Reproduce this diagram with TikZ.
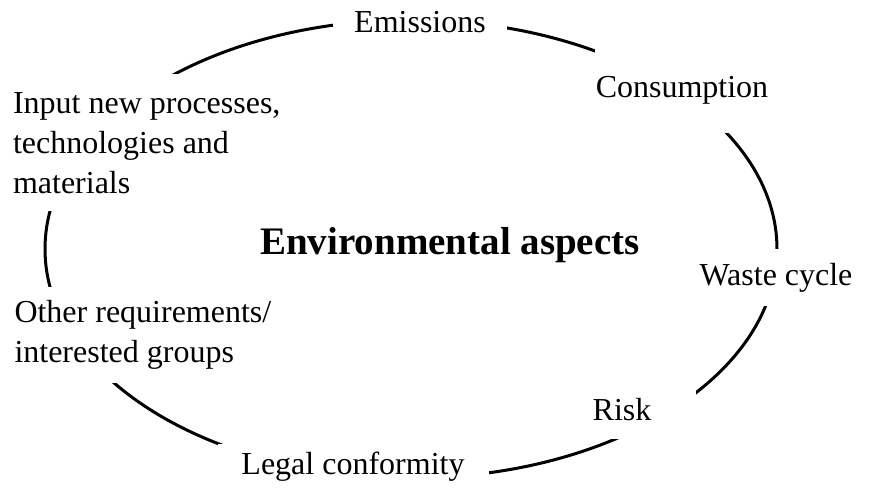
\documentclass[tikz,border=0pt]{standalone}
\usepackage{fontspec}
\setmainfont{Liberation Serif}
\tikzset{
	aspect/.style={fill=white, inner sep=0pt, font=\fontsize{16}{20}\selectfont},
	aspectlong/.style={aspect, align=flush left, inner xsep=7.5pt}
}
\begin{document}
\begin{tikzpicture}[x=0.5pt,y=-0.5pt]
	\useasboundingbox (0,0) rectangle (874,490);

	\draw[line width=1.5pt] (411,249) ellipse [x radius=366, y radius=229];

	\node (emis)	at (420,22)	[aspect, minimum width=87pt, minimum height=24pt]{Emissions};
	\node (cons)	at (682,90)	[aspect, minimum width=87.5pt, minimum height=43.5pt]{Consumption};
	\node (waste)	at (776,278)	[aspect, minimum width=81.5pt, minimum height=28.5pt]{Waste cycle};
	\node (risk)	at (622,410)	[aspect, minimum width=74pt, minimum height=29.5pt]{Risk};
	\node (legal)	at (353,467)	[aspect, minimum width=135.5pt, minimum height=22.5pt]{Legal conformity};
	\node (other)	at (146,335)	[aspectlong, text width=131.5pt, minimum height=48pt]{Other requirements/\\interested groups};
	\node (input)	at (148,143)	[aspectlong, text width=135pt, minimum height=68.5pt]{Input new processes,\\technologies and\\materials};

	\node (title)	at (450,245)	[font=\fontsize{19.5}{24}\selectfont\bfseries]{Environmental aspects};

\end{tikzpicture}
\end{document}
